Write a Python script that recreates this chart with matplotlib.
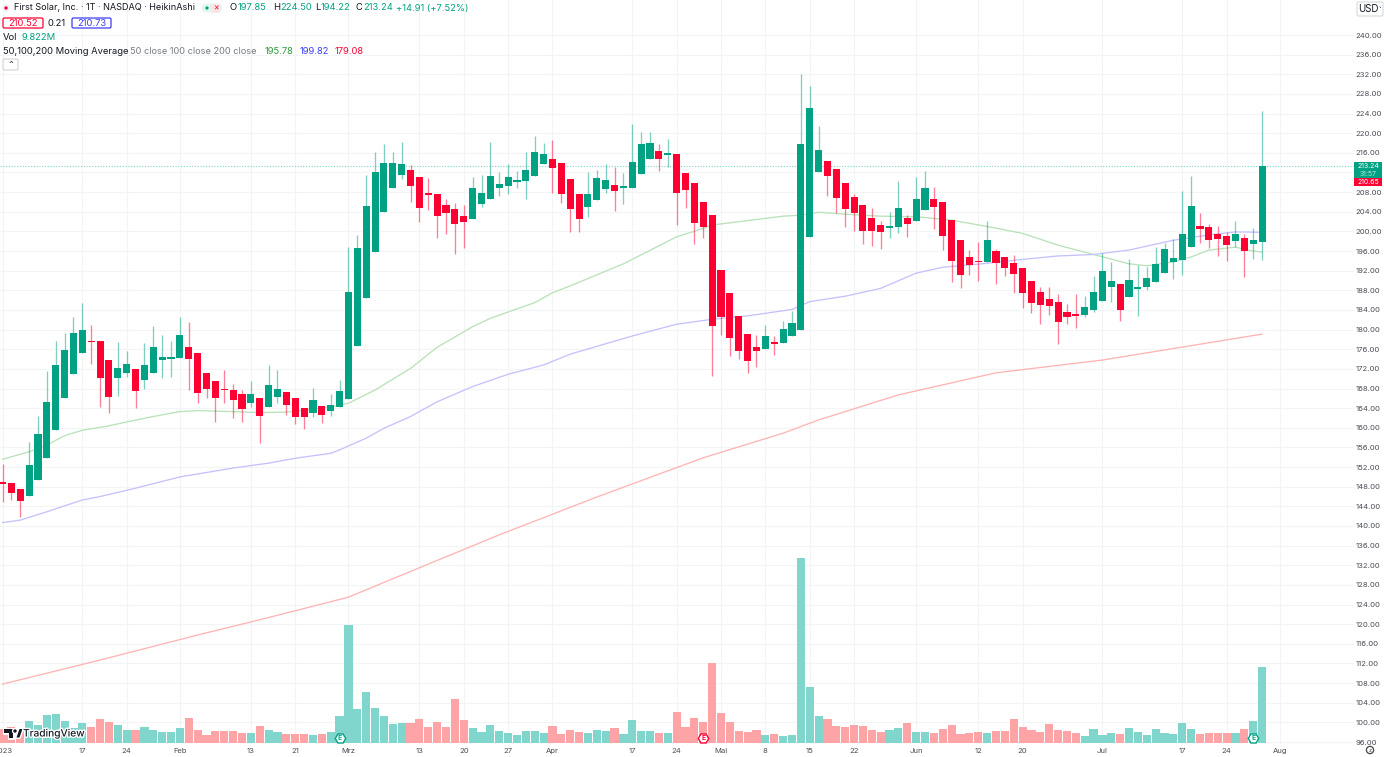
"""First Solar daily Heikin Ashi chart with moving averages and volume."""

import matplotlib

matplotlib.use("Agg")
import matplotlib.patheffects as pe
import matplotlib.pyplot as plt
from matplotlib.patches import Circle, FancyBboxPatch, Polygon, Rectangle

W, H = 1384, 757

GREEN = "#01a283"
RED = "#ff0033"
TEXT = "#131722"
MUTED = "#6a6d78"
GRID = "#f3f4f6"

# heikin ashi candles, one per trading day from 2023-01-03
opens = [
    148.9, 148.8, 147.6, 146.2, 149.3, 153.9, 159.5, 166.1, 170.9, 175.2,
    177.7, 177.6, 173.9, 170.1, 171.1, 172.0, 169.7, 171.2, 173.8, 174.1,
    174.2, 176.5, 175.2, 171.1, 169.6, 167.8, 167.8, 166.8, 165.1, 166.0,
    164.2, 166.3, 167.2, 166.0, 164.1, 163.1, 164.4, 163.5, 164.2, 165.9,
    176.7, 186.5, 195.8, 204.0, 208.9, 211.5, 212.5, 211.0, 207.9, 207.7,
    205.4, 204.6, 203.1, 202.5, 205.6, 206.6, 208.8, 209.2, 210.1, 210.2,
    211.3, 213.7, 214.7, 213.9, 210.7, 207.6, 204.9, 206.3, 208.6, 209.4,
    208.8, 208.9, 211.6, 214.7, 216.3, 215.6, 215.7, 211.8, 209.9, 205.9,
    203.4, 192.1, 187.4, 182.8, 179.2, 176.5, 176.0, 177.4, 177.2, 178.6,
    179.9, 198.9, 212.0, 214.3, 212.8, 209.8, 207.1, 205.4, 202.8, 201.4,
    200.6, 200.9, 202.8, 202.2, 204.3, 206.5, 205.9, 202.4, 198.2, 194.7,
    194.0, 193.7, 196.0, 194.7, 193.6, 192.5, 190.0, 187.7, 186.3, 185.7,
    183.5, 183.1, 182.9, 183.9, 185.8, 188.7, 189.3, 186.6, 188.3, 188.6,
    189.6, 191.5, 193.8, 194.2, 196.9, 201.0, 200.8, 199.5, 199.0, 198.0,
    198.7, 197.4, 197.85,
]
closes = [
    148.6, 146.7, 145.0, 152.5, 158.7, 165.2, 172.7, 175.8, 179.4, 180.0,
    177.4, 170.2, 166.3, 172.1, 172.9, 167.4, 172.7, 176.5, 174.4, 174.4,
    178.8, 174.0, 167.0, 167.9, 166.0, 167.6, 165.7, 163.8, 166.8, 162.4,
    168.7, 168.0, 164.6, 162.1, 162.1, 165.6, 162.6, 164.7, 167.4, 187.6,
    196.6, 205.2, 212.0, 213.9, 214.0, 213.7, 209.3, 204.8, 207.5, 203.1,
    203.7, 201.6, 201.9, 208.8, 207.8, 211.2, 209.6, 211.0, 210.4, 212.5,
    216.1, 215.7, 212.9, 207.6, 204.5, 202.5, 207.6, 210.9, 210.4, 208.2,
    209.3, 214.2, 217.7, 218.0, 214.7, 215.9, 207.8, 208.4, 201.8, 200.9,
    180.7, 182.6, 178.3, 175.6, 173.7, 175.6, 178.6, 177.0, 180.1, 181.4,
    217.7, 225.1, 216.6, 211.3, 206.8, 204.6, 203.7, 200.1, 200.0, 199.8,
    201.2, 204.7, 201.6, 206.6, 208.8, 205.0, 199.1, 193.9, 191.1, 193.1,
    193.7, 198.2, 193.5, 192.6, 191.3, 187.5, 185.4, 185.0, 184.8, 181.5,
    182.5, 182.8, 184.7, 187.6, 192.0, 189.8, 184.0, 190.2, 188.7, 190.6,
    193.4, 196.5, 194.5, 199.5, 205.1, 200.5, 198.3, 198.5, 197.2, 199.5,
    196.0, 198.3, 213.24,
]
highs = [
    152.6, 148.8, 147.6, 157.2, 162.5, 171.5, 177.6, 179.4, 182.6, 185.4,
    180.9, 177.6, 173.9, 177.4, 175.6, 172.0, 177.2, 180.8, 179.0, 177.7,
    182.5, 181.6, 175.2, 171.1, 169.6, 171.8, 168.9, 167.6, 169.5, 166.0,
    172.8, 171.8, 167.2, 166.0, 164.1, 168.2, 164.4, 166.9, 169.7, 196.9,
    199.3, 211.5, 216.1, 217.8, 216.1, 218.2, 213.5, 211.0, 210.8, 207.7,
    206.7, 205.7, 205.4, 211.1, 211.5, 218.2, 212.2, 213.7, 212.3, 216.1,
    219.5, 218.1, 218.6, 213.9, 210.7, 207.6, 212.2, 212.5, 213.7, 213.1,
    211.8, 221.9, 220.2, 220.3, 217.9, 218.8, 215.7, 211.8, 209.9, 205.9,
    203.4, 192.1, 187.4, 182.8, 179.2, 178.8, 180.9, 178.6, 181.8, 183.7,
    232.1, 229.6, 221.5, 214.3, 212.8, 209.8, 207.6, 205.4, 204.7, 202.1,
    203.9, 210.3, 203.3, 211.0, 212.3, 209.0, 205.9, 202.4, 198.2, 196.2,
    197.9, 202.2, 196.4, 194.7, 195.2, 192.5, 190.0, 188.6, 188.7, 187.2,
    185.3, 187.2, 186.8, 190.9, 195.5, 193.8, 189.3, 194.4, 193.2, 192.7,
    196.9, 197.6, 198.4, 208.3, 211.3, 203.7, 201.6, 201.0, 199.8, 202.2,
    199.4, 200.6, 224.50,
]
lows = [
    144.8, 145.2, 141.9, 146.2, 149.3, 153.9, 159.5, 166.1, 170.9, 175.2,
    173.0, 164.3, 163.0, 166.5, 170.4, 164.0, 168.0, 171.2, 170.2, 170.4,
    174.2, 167.7, 165.1, 166.1, 161.2, 165.0, 161.9, 161.2, 164.3, 157.0,
    164.2, 165.0, 162.6, 160.8, 159.7, 162.1, 160.9, 162.4, 164.2, 165.9,
    176.7, 186.5, 195.8, 204.0, 208.9, 210.6, 205.9, 201.9, 204.4, 198.7,
    199.5, 195.4, 196.7, 202.5, 204.9, 206.6, 207.2, 207.6, 208.8, 206.7,
    211.3, 213.7, 207.8, 205.7, 199.9, 199.8, 203.0, 206.3, 207.8, 204.2,
    205.5, 208.9, 211.6, 214.7, 212.4, 213.2, 201.4, 204.7, 197.4, 198.6,
    170.5, 178.9, 174.7, 174.1, 171.1, 172.3, 176.0, 174.8, 177.2, 178.6,
    179.9, 198.9, 212.0, 207.3, 203.7, 200.8, 200.1, 197.4, 197.0, 196.5,
    198.6, 199.7, 198.9, 202.2, 204.3, 200.5, 196.3, 189.7, 188.4, 191.1,
    189.8, 193.7, 189.2, 191.0, 187.4, 184.3, 183.3, 181.1, 183.0, 177.0,
    181.1, 180.3, 182.5, 183.5, 185.8, 185.6, 181.7, 186.6, 182.8, 188.0,
    189.6, 191.5, 190.4, 191.1, 196.9, 197.6, 196.6, 194.9, 194.0, 196.8,
    190.8, 194.4, 194.22,
]
volumes = [
    1.81, 2.07, 1.72, 2.80, 2.37, 3.62, 3.75, 2.80, 1.94, 2.59,
    2.07, 3.15, 2.76, 2.37, 1.64, 1.68, 2.07, 1.72, 1.47, 1.47,
    1.94, 3.28, 1.72, 1.08, 1.59, 1.51, 1.55, 1.34, 1.34, 2.24,
    1.72, 1.42, 1.16, 1.21, 1.21, 1.08, 1.16, 1.42, 3.49, 15.2,
    4.44, 6.59, 4.57, 3.53, 2.50, 2.59, 2.59, 3.15, 2.03, 2.76,
    2.07, 5.69, 2.97, 1.98, 1.47, 2.37, 1.59, 1.29, 1.03, 1.59,
    1.51, 1.29, 2.20, 1.16, 1.68, 1.47, 1.34, 1.72, 1.51, 1.94,
    1.21, 2.97, 1.59, 1.51, 1.34, 1.34, 4.05, 2.07, 3.28, 2.67,
    10.34, 3.92, 2.76, 1.55, 1.47, 1.68, 1.08, 1.21, 0.91, 1.08,
    23.96, 7.28, 3.49, 3.15, 2.20, 2.07, 2.37, 2.20, 1.72, 1.47,
    1.68, 1.94, 2.63, 1.47, 1.47, 1.29, 1.81, 2.33, 1.12, 1.29,
    1.42, 1.29, 1.51, 1.51, 3.10, 2.07, 1.68, 1.42, 2.50, 1.72,
    1.59, 1.29, 0.86, 1.81, 1.08, 1.29, 1.16, 1.98, 1.47, 1.08,
    1.85, 1.34, 1.21, 2.59, 1.81, 1.16, 1.34, 1.34, 1.29, 1.34,
    1.85, 2.89, 9.82,
]

# moving averages, read at the bars where the curve bends
ma50_x = [0, 3, 5, 7, 9, 12, 14, 17, 20, 22, 26, 29, 32, 37, 39, 42, 46, 49, 53, 55,
          60, 62, 64, 70, 76, 79, 80, 84, 88, 90, 92, 95, 99, 103, 107, 111, 115,
          119, 123, 127, 129, 132, 134, 136, 139, 141, 142]
ma50_y = [153.6, 155.1, 156.5, 158.4, 159.5, 160.4, 161.2, 162.3, 163.3, 163.5,
          163.3, 163.1, 163.2, 164.2, 165.0, 167.7, 172.1, 176.4, 180.6, 182.3,
          185.5, 187.5, 188.9, 193.4, 198.9, 200.6, 201.3, 202.2, 203.1, 203.3,
          203.9, 203.5, 203.1, 203.0, 202.3, 201.0, 199.6, 197.2, 195.3, 193.4,
          193.0, 193.8, 194.8, 196.2, 196.8, 196.0, 195.78]
ma100_x = [0, 2, 5, 9, 11, 15, 20, 26, 30, 33, 37, 38, 39, 41, 43, 46, 49, 53, 57, 61, 64,
           71, 76, 80, 84, 89, 91, 95, 99, 103, 106, 111, 115, 119, 123, 127, 132,
           136, 139, 142]
ma100_y = [140.7, 141.2, 142.9, 145.3, 146.0, 147.7, 150.0, 151.8, 152.8, 153.8,
           154.8, 155.5, 156.3, 157.9, 159.9, 162.3, 165.3, 168.4, 170.9, 172.8, 175.0,
           178.7, 181.1, 182.1, 182.8, 184.1, 185.7, 186.8, 188.4, 191.5, 192.7,
           193.5, 194.3, 195.0, 195.3, 196.2, 198.2, 199.3, 199.9, 199.82]
ma200_x = [0, 11, 22, 29, 39, 45, 56, 67, 79, 88, 92, 101, 112, 124, 142]
ma200_y = [107.8, 112.7, 117.8, 120.9, 125.5, 130.0, 138.2, 145.9, 153.9,
           158.9, 161.6, 166.7, 171.2, 173.8, 179.08]

# time axis labels sit on these bars
tick_bars = [0, 9, 14, 20, 28, 33, 39, 47, 52, 57, 62, 71, 76, 81, 86, 91, 96,
             103, 110, 115, 124, 133, 138, 144]
tick_names = ["2023", "17", "24", "Feb", "13", "21", "Mrz", "13", "20", "27", "Apr",
              "17", "24", "Mai", "8", "15", "22", "Jun", "12", "20", "Jul", "17",
              "24", "Aug"]
price_ticks = list(range(96, 244, 4))

# earnings markers
earnings_bars = [38, 79, 141]
earnings_colors = [GREEN, RED, GREEN]

plt.rcParams["font.family"] = ["Inter", "DejaVu Sans"]


def px_text(fig, x, y, s, size=6.75, color=TEXT, **kw):
    kw.setdefault("va", "center")
    return fig.text(x / W, 1 - y / H, s, fontsize=size, color=color, **kw)


def pixel_trans(fig):
    return fig.dpi_scale_trans.__class__().scale(fig.bbox.width / W, fig.bbox.height / H)


def px_box(fig, x0, y0, x1, y1, edge, face="white", lw=0.9, pad=1.5):
    box = FancyBboxPatch(
        (x0, H - y1), x1 - x0, y1 - y0,
        boxstyle=f"round,pad=0,rounding_size={pad}",
        transform=pixel_trans(fig), facecolor=face, edgecolor=edge, linewidth=lw,
    )
    fig.add_artist(box)


def draw_candles(ax):
    n = len(opens)
    xs = list(range(n))
    colors = [GREEN if c >= o else RED for o, c in zip(opens, closes)]
    ax.vlines(xs, lows, highs, colors=colors, linewidth=0.95, alpha=0.5, zorder=3)
    bottoms = [min(o, c) for o, c in zip(opens, closes)]
    heights = [max(abs(c - o), 0.25) for o, c in zip(opens, closes)]
    ax.bar(xs, heights, bottom=bottoms, width=0.8, color=colors, linewidth=0, zorder=4)


def draw_volume(ax):
    ax_vol = ax.twinx()
    ax_vol.patch.set_visible(False)
    ax_vol.set_ylim(-0.13, 744 * 0.1293 - 0.13)
    colors = ["#80d6cc" if c >= o else "#ffa4a6" for o, c in zip(opens, closes)]
    ax_vol.bar(range(len(volumes)), volumes, width=0.92, color=colors, linewidth=0)
    for bar, col in zip(earnings_bars, earnings_colors):
        ax_vol.plot([bar], [0.62], marker="H", ms=7.5, mfc="white", mec=col, mew=1.0,
                    ls="none", zorder=5)
        ax_vol.text(bar, 0.6, "E", color=col, fontsize=4.8, fontweight="bold",
                    ha="center", va="center", zorder=6)
    ax_vol.axis("off")


def draw_header(fig):
    fig.add_artist(Circle((6, H - 8), 4, transform=pixel_trans(fig), fc="#f0f3fa", ec="none"))
    fig.add_artist(Circle((6, H - 8), 1.7, transform=pixel_trans(fig), fc=RED, ec="none"))
    px_text(fig, 14, 8, "First Solar, Inc. · 1T · NASDAQ · HeikinAshi", size=6.55)
    px_box(fig, 202, 3.5, 222, 12.5, "none", face="#e4f4ef", pad=4.5)
    fig.add_artist(Rectangle((212, H - 12.5), 7, 9, transform=pixel_trans(fig),
                             fc="#fde3e6", ec="none"))
    fig.add_artist(Circle((207, H - 8), 1.6, transform=pixel_trans(fig), fc=GREEN, ec="none"))
    px_text(fig, 216, 8, "×", size=6, color=RED, ha="center")

    for x, s, col in [
        (230, "O", TEXT), (238, "197.85", GREEN), (273, "H", TEXT), (280, "224.50", GREEN),
        (315, "L", TEXT), (321, "194.22", GREEN), (356, "C", TEXT), (363, "213.24", GREEN),
        (396, "+14.91 (+7.52%)", GREEN),
    ]:
        px_text(fig, x, 8, s, color=col)

    px_box(fig, 3, 18, 43, 28, RED)
    px_text(fig, 23, 23, "210.52", color=RED, ha="center")
    px_text(fig, 47.5, 23, "0.21")
    px_box(fig, 72, 18, 111, 28, "#3d3df5")
    px_text(fig, 91.5, 23, "210.73", color="#3d3df5", ha="center")

    px_text(fig, 3, 37, "Vol")
    px_text(fig, 21, 37, "9.822M", color=GREEN)

    px_text(fig, 3, 51, "50,100,200 Moving Average")
    px_text(fig, 130, 51, "50 close 100 close 200 close", color="#787b86", size=6.6)
    px_text(fig, 265, 51, "195.78", color="#2b9a3e")
    px_text(fig, 300, 51, "199.82", color="#3d3df5")
    px_text(fig, 335, 51, "179.08", color=RED)

    px_box(fig, 3, 59, 18, 70, "#c9ccd3", lw=0.7)
    px_text(fig, 10.5, 65.5, "⌃", size=6, color=TEXT, ha="center",
            family=["DejaVu Sans"])


def draw_price_side(fig):
    px_box(fig, 1357, 2, 1383, 16, "#d6d8de", lw=0.8)
    px_text(fig, 1358.5, 9.5, "USD", size=7.0, color=TEXT)
    px_text(fig, 1380, 9.5, "˅", size=4, color=TEXT, ha="center", family=["DejaVu Sans"])

    fig.add_artist(Rectangle((1354, H - 178), 28, 16, transform=pixel_trans(fig),
                             fc=GREEN, ec="none"))
    fig.add_artist(Rectangle((1354, H - 186), 28, 8, transform=pixel_trans(fig),
                             fc=RED, ec="none"))
    px_text(fig, 1368, 166, "213.24", size=5.0, color="white", ha="center")
    px_text(fig, 1368, 174, "31:57", size=5.0, color="#b5e6dc", ha="center")
    px_text(fig, 1368, 182, "210.65", size=5.0, color="white", ha="center")

    fig.add_artist(Circle((1370, H - 750), 3.6, transform=pixel_trans(fig),
                          fc="white", ec="#444", lw=0.9))
    px_text(fig, 1370, 750, "z", size=4, color="#444", ha="center")


def draw_logo(fig):
    t = pixel_trans(fig)
    halo = [pe.withStroke(linewidth=2, foreground="white")]
    parts = [
        Polygon([(4, H - 729), (13, H - 729), (13, H - 737.5), (9, H - 737.5),
                 (9, H - 732.5), (4, H - 732.5)], transform=t, fc=TEXT, ec="none"),
        Circle((15, H - 731), 1.7, transform=t, fc=TEXT, ec="none"),
        Polygon([(16.5, H - 737.5), (19.5, H - 729), (22.5, H - 729), (19.5, H - 737.5)],
                transform=t, fc=TEXT, ec="none"),
    ]
    for part in parts:
        part.set_path_effects(halo)
        fig.add_artist(part)
    label = px_text(fig, 23, 733.5, "TradingView", size=7.3, color=TEXT, fontweight="medium")
    label.set_path_effects(halo)


def main():
    fig = plt.figure(figsize=(W / 100, H / 100), dpi=100, facecolor="white")
    ax = fig.add_axes([0, 1 - 744 / H, 1354 / W, 744 / H])
    ax.set_facecolor("white")
    for spine in ax.spines.values():
        spine.set_visible(False)

    ax.plot(ma50_x, ma50_y, color="#b9e2b9", linewidth=0.95, zorder=2)
    ax.plot(ma100_x, ma100_y, color="#c5c2fb", linewidth=0.95, zorder=2)
    ax.plot(ma200_x, ma200_y, color="#ffb4b4", linewidth=0.95, zorder=2)
    ax.axhline(closes[-1], color="#7fd5c8", linewidth=0.8, linestyle=(0, (1, 1.5)), zorder=2)

    draw_candles(ax)
    draw_volume(ax)

    ax.set_xlim(-0.282, 152.36)
    ax.set_ylim(95.6, 247.13)
    ax.yaxis.tick_right()
    ax.set_yticks(price_ticks, [f"{p:.2f}" for p in price_ticks])
    ax.set_xticks(tick_bars, tick_names)
    ax.tick_params(axis="both", length=0, labelsize=5.5, labelcolor="#4a4d57")
    ax.tick_params(axis="y", pad=1)
    ax.tick_params(axis="x", pad=2.6)
    ax.grid(True, color=GRID, linewidth=0.8)
    ax.set_axisbelow(True)

    draw_header(fig)
    draw_price_side(fig)
    draw_logo(fig)

    fig.savefig("out.png", dpi=100, facecolor="white")
    plt.close(fig)


if __name__ == "__main__":
    main()
